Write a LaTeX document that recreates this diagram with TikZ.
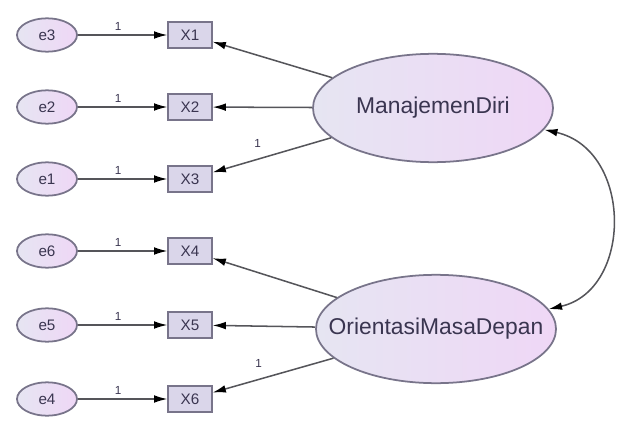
\documentclass[tikz,border=0pt]{standalone}
\usepackage{fontspec}
\setmainfont{Liberation Sans}
\usetikzlibrary{shapes, arrows.meta, positioning}
\definecolor{edgegray}{HTML}{78748A}
\definecolor{linegray}{HTML}{55555A}
\definecolor{latleft}{HTML}{E6E5F2}
\definecolor{latright}{HTML}{EFD7F6}
\definecolor{boxfill}{HTML}{DAD6EA}
\definecolor{txt}{HTML}{3A3550}

\begin{document}
\begin{tikzpicture}[x=0.03cm, y=-0.03cm,
  err/.style={ellipse, draw=edgegray, line width=1.5pt, left color=latleft, right color=latright,
    minimum width=1.8cm, minimum height=1.0cm, inner sep=0pt, text=txt, font=\fontsize{13}{13}\selectfont},
  obs/.style={rectangle, draw=edgegray, line width=1.5pt, fill=boxfill,
    minimum width=1.3cm, minimum height=0.8cm, inner sep=0pt, text=txt, font=\fontsize{13}{13}\selectfont},
  lat/.style={ellipse, draw=edgegray, line width=1.5pt, left color=latleft, right color=latright,
    minimum width=7.2cm, minimum height=3.25cm, inner sep=0pt},
  lattext/.style={text=txt, font=\fontsize{19.5}{19.5}\selectfont},
  tip/.style={Latex[length=4mm,width=2.3mm,color=black]},
  regr/.style={draw=linegray, line width=1.3pt, -{Latex[length=4mm,width=2.3mm,color=black]}},
  one/.style={text=txt, font=\fontsize{10}{10}\selectfont}
]
\useasboundingbox (0,0) rectangle (622,426);

\node[err] (e3) at (47,35) {e3};
\node[err] (e2) at (47,107) {e2};
\node[err] (e1) at (47,179) {e1};
\node[err] (e6) at (47,251) {e6};
\node[err] (e5) at (47,325) {e5};
\node[err] (e4) at (47,399) {e4};

\node[obs] (X1) at (190,35) {X1};
\node[obs] (X2) at (190,107) {X2};
\node[obs] (X3) at (190,179) {X3};
\node[obs] (X4) at (190,251) {X4};
\node[obs] (X5) at (190,325) {X5};
\node[obs] (X6) at (190,399) {X6};

\node[lat, label={[lattext]center:ManajemenDiri}] (MD) at (433,108) {};
\node[lat, label={[lattext]center:OrientasiMasaDepan}] (OMD) at (436,329) {};

\draw[regr] (e3) -- node[one, above, pos=0.45] {1} (X1);
\draw[regr] (e2) -- node[one, above, pos=0.45] {1} (X2);
\draw[regr] (e1) -- node[one, above, pos=0.45] {1} (X3);
\draw[regr] (e6) -- node[one, above, pos=0.45] {1} (X4);
\draw[regr] (e5) -- node[one, above, pos=0.45] {1} (X5);
\draw[regr] (e4) -- node[one, above, pos=0.45] {1} (X6);

\draw[regr] (MD) -- (X1);
\draw[regr] (MD) -- (X2);
\draw[regr] (MD) -- node[one, pos=0.62, above=6pt] {1} (X3);
\draw[regr] (OMD) -- (X4);
\draw[regr] (OMD) -- (X5);
\draw[regr] (OMD) -- node[one, pos=0.62, above=6pt] {1} (X6);

\draw[regr, {Latex[length=4mm,width=2.3mm,color=black]}-{Latex[length=4mm,width=2.3mm,color=black]}] (MD.-11) .. controls (633,150) and (633,290) .. (OMD.10);
\end{tikzpicture}
\end{document}
